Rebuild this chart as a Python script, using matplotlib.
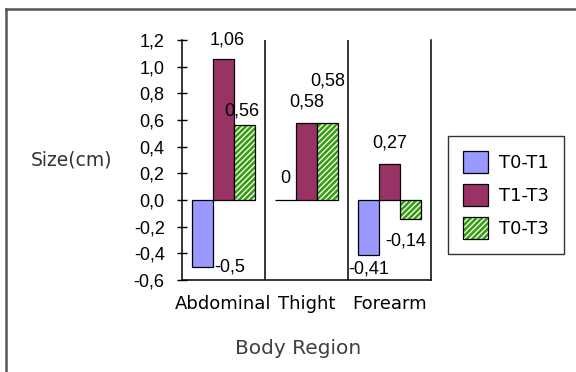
import matplotlib
matplotlib.use("Agg")
import matplotlib.pyplot as plt
from matplotlib.lines import Line2D
from matplotlib.patches import Patch
from matplotlib.legend_handler import HandlerTuple
import numpy as np

regions = ["Abdominal", "Thight", "Forearm"]
series = ["T0-T1", "T1-T3", "T0-T3"]
t0_t1 = [-0.5, 0.0, -0.41]
t1_t3 = [1.06, 0.58, 0.27]
t0_t3 = [0.56, 0.58, -0.14]
yticks = [-0.6, -0.4, -0.2, 0.0, 0.2, 0.4, 0.6, 0.8, 1.0, 1.2]

plt.rcParams['font.family'] = ['DejaVu Sans']
plt.rcParams['hatch.linewidth'] = 1.8
NUM_FONT = ['Liberation Sans', 'DejaVu Sans']
STRIPE = "#339922"


def fmt_value(v):
    if v == 0:
        return "0"
    if round(v, 1) == v:
        return ("%.1f" % v).replace(".", ",")
    return ("%.2f" % v).replace(".", ",")


fig = plt.figure(figsize=(5.76, 3.72), dpi=100)
ax = fig.add_axes([182 / 576, 1 - 280 / 372, 249 / 576, 240 / 372])

x = np.arange(len(regions))
w = 0.253
colors = ["#9999ff", "#993366", "#f6ffcc"]
values = [t0_t1, t1_t3, t0_t3]
ax.bar(x - w, t0_t1, w, color=colors[0], edgecolor="black", linewidth=0.9, zorder=2)
ax.bar(x, t1_t3, w, color=colors[1], edgecolor="black", linewidth=0.9, zorder=2)
# striped bars: hatch takes the edge colour, so outline them separately
ax.bar(x + w, t0_t3, w, color=colors[2], edgecolor=STRIPE, linewidth=0,
       hatch="//////", zorder=2)
ax.bar(x + w, t0_t3, w, fill=False, edgecolor="black", linewidth=0.9, zorder=3)

ax.set_xlim(-0.5, 2.5)
ax.set_ylim(-0.6, 1.2)
ax.set_yticks(yticks)
ax.set_yticklabels([("%.1f" % v).replace(".", ",") for v in yticks],
                   fontsize=13, family=NUM_FONT)
ax.tick_params(axis="y", direction="inout", length=7, width=1, pad=9)
ax.set_xticks(x)
ax.set_xticklabels(regions, fontsize=13)
ax.tick_params(axis="x", length=0, pad=11)
ax.spines["top"].set_visible(False)
for s in ("left", "right", "bottom"):
    ax.spines[s].set_linewidth(1.1)
for sep in (0.5, 1.5):
    ax.axvline(sep, color="black", linewidth=1.1)

# value labels: (series index, region index, x offset px, y offset px, ha, va)
label_pos = [
    (0, 0, 1, 0, "left", "center"),
    (1, 0, 4, 10, "center", "bottom"),
    (2, 0, -3, 6, "center", "bottom"),
    (0, 1, 0, 13, "center", "bottom"),
    (1, 1, 0, 12, "center", "bottom"),
    (2, 1, 0, 33, "center", "bottom"),
    (0, 2, 0, -6, "center", "top"),
    (1, 2, 0, 13, "center", "bottom"),
    (2, 2, -5, -14, "center", "top"),
]
for si, ri, dx, dy, ha, va in label_pos:
    v = values[si][ri]
    xpos = x[ri] + (si - 1) * w
    if ha == "left":
        xpos += w / 2
    ax.annotate(fmt_value(v), (xpos, v), xytext=(dx * 0.72, dy * 0.72),
                textcoords="offset points", ha=ha, va=va, fontsize=13,
                family=NUM_FONT, annotation_clip=False, zorder=4)

fig.text(72 / 576, 1 - 160 / 372, "Size(cm)", fontsize=13.5, color="#333333",
         ha="center", va="center")
fig.text(298 / 576, 1 - 348 / 372, "Body Region", fontsize=14.5, color="#404040",
         ha="center", va="center")

handles = [Patch(facecolor=colors[0], edgecolor="black", linewidth=0.9),
           Patch(facecolor=colors[1], edgecolor="black", linewidth=0.9),
           (Patch(facecolor=colors[2], edgecolor=STRIPE, linewidth=0, hatch="//////"),
            Patch(fill=False, edgecolor="black", linewidth=0.9))]
leg = fig.legend(handles, series, loc="upper left",
                 bbox_to_anchor=(448 / 576, 1 - 136 / 372), fontsize=13,
                 frameon=True, fancybox=False, edgecolor="black",
                 handlelength=1.35, handleheight=1.5, labelspacing=0.6,
                 handletextpad=0.6, borderpad=0.85, borderaxespad=0,
                 handler_map={tuple: HandlerTuple(ndivide=1, pad=0)})
leg.get_frame().set_linewidth(1)

# outer chart frame, top and left edges
fig.add_artist(Line2D([6 / 576, 1], [1 - 9 / 372] * 2, color="#555555", linewidth=1.8))
fig.add_artist(Line2D([6 / 576] * 2, [0, 1 - 9 / 372], color="#555555", linewidth=1.8))

fig.savefig("out.png", dpi=100)
